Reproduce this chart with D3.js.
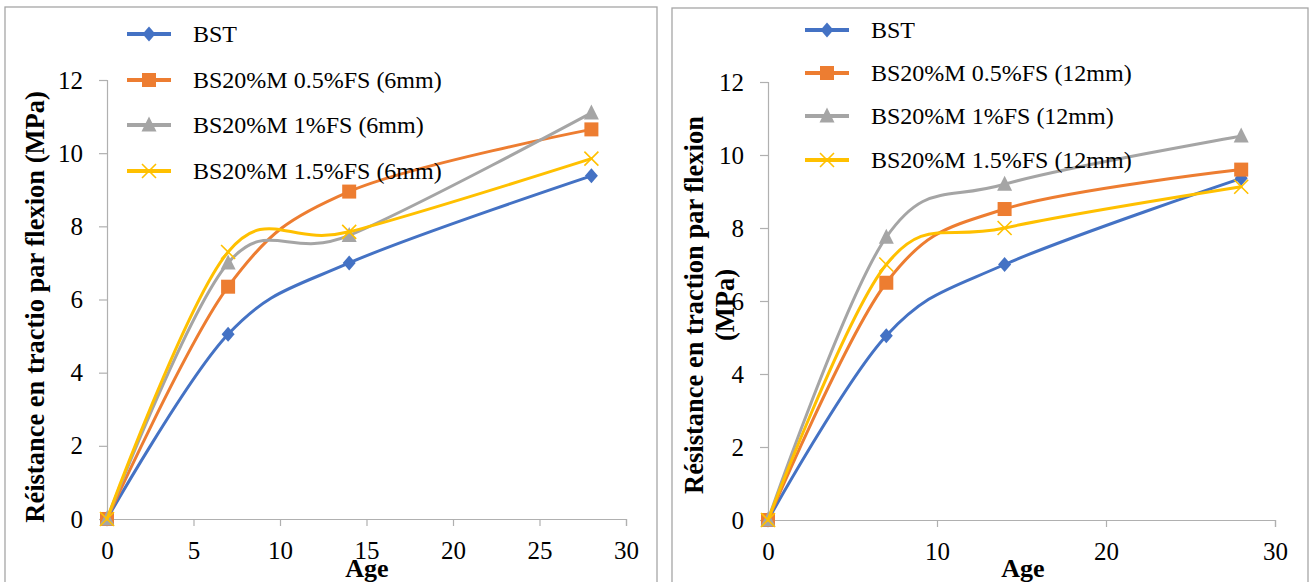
<!DOCTYPE html>
<html><head><meta charset="utf-8">
<script src="https://cdn.jsdelivr.net/npm/d3@7"></script>
<style>body{margin:0;background:#fff}svg{display:block}</style>
</head><body>
<svg id="c" width="1312" height="582"></svg>
<script>
const ages = [0, 7, 14, 28];
const leftNames = ["BST", "BS20%M 0.5%FS (6mm)", "BS20%M 1%FS (6mm)", "BS20%M 1.5%FS (6mm)"];
const leftBST = [0, 5.05, 7.0, 9.38];
const left05 = [0, 6.35, 8.95, 10.65];
const left10 = [0, 7.0, 7.75, 11.1];
const left15 = [0, 7.3, 7.85, 9.85];
const rightNames = ["BST", "BS20%M 0.5%FS (12mm)", "BS20%M 1%FS (12mm)", "BS20%M 1.5%FS (12mm)"];
const rightBST = [0, 5.05, 7.0, 9.36];
const right05 = [0, 6.5, 8.52, 9.6];
const right10 = [0, 7.75, 9.2, 10.52];
const right15 = [0, 7.0, 8.0, 9.13];
const yTicks = [0, 2, 4, 6, 8, 10, 12];
const xTicksLeft = [0, 5, 10, 15, 20, 25, 30];
const xTicksRight = [0, 10, 20, 30];

const colors = ["#4472C4", "#ED7D31", "#A5A5A5", "#FFC000"];
const markers = ["diamond", "square", "triangle", "x"];
const svg = d3.select("#c");
const FONT = "'Liberation Serif','Times New Roman',serif";

function marker(g, type, color, x, y) {
  if (type === "diamond") {
    g.append("path").attr("d", `M${x},${y-7.5}L${x+6.5},${y}L${x},${y+7.5}L${x-6.5},${y}Z`).attr("fill", color);
  } else if (type === "square") {
    g.append("rect").attr("x", x-7).attr("y", y-7).attr("width", 14).attr("height", 14).attr("fill", color);
  } else if (type === "triangle") {
    g.append("path").attr("d", `M${x},${y-8.5}L${x+7.5},${y+6.5}L${x-7.5},${y+6.5}Z`).attr("fill", color);
  } else {
    g.append("path").attr("d", `M${x-7},${y-7}L${x+7},${y+7}M${x-7},${y+7}L${x+7},${y-7}`)
      .attr("stroke", color).attr("stroke-width", 1.6).attr("fill", "none");
  }
}

function chart(cfg) {
  const g = svg.append("g");
  g.append("rect").attr("x", cfg.box[0]).attr("y", cfg.box[1]).attr("width", cfg.box[2]).attr("height", cfg.box[3])
    .attr("fill", "#fff").attr("stroke", "#a6a6a6").attr("stroke-width", 1.3);
  const x = d3.scaleLinear().domain([0, 30]).range([cfg.x0, cfg.x1]);
  const y = d3.scaleLinear().domain([0, 12]).range([cfg.y0, cfg.y1]);

  const ya = g.append("g").attr("transform", `translate(${cfg.x0},0)`)
    .call(d3.axisLeft(y).tickValues(yTicks).tickSize(8).tickPadding(16).tickFormat(d3.format("d")));
  const xa = g.append("g").attr("transform", `translate(0,${cfg.y0})`)
    .call(d3.axisBottom(x).tickValues(cfg.xTicks).tickSize(7).tickPadding(15).tickFormat(d3.format("d")));
  [ya, xa].forEach(a => {
    a.select(".domain").attr("stroke", "#b0b0b0").attr("stroke-width", 1.2);
    a.selectAll(".tick line").attr("stroke", "#b0b0b0").attr("stroke-width", 1.2);
    a.selectAll("text").attr("font-family", FONT).attr("font-size", 25).attr("fill", "#000");
  });

  const line = d3.line().x((d, i) => x(ages[i])).y(d => y(d)).curve(d3.curveCardinal.tension(0));
  cfg.series.forEach((s, k) => {
    g.append("path").datum(s).attr("d", line).attr("fill", "none")
      .attr("stroke", colors[k]).attr("stroke-width", 3).attr("stroke-linecap", "round");
    s.forEach((v, i) => marker(g, markers[k], colors[k], x(ages[i]), y(v)));
  });

  // legend
  cfg.names.forEach((n, k) => {
    const ly = cfg.legY[k];
    g.append("line").attr("x1", cfg.legX).attr("x2", cfg.legX + 44).attr("y1", ly).attr("y2", ly)
      .attr("stroke", colors[k]).attr("stroke-width", 4);
    marker(g, markers[k], colors[k], cfg.legX + 22, ly);
    g.append("text").attr("x", cfg.legX + 66).attr("y", ly + 8).text(n)
      .attr("font-family", FONT).attr("font-size", 24).attr("fill", "#000");
  });

  g.append("text").attr("x", cfg.ageX).attr("y", 577).attr("text-anchor", "middle")
    .attr("font-family", FONT).attr("font-size", 26).attr("font-weight", "bold").text("Age");

  cfg.yTitle.forEach((t, i) => {
    g.append("text").attr("transform", `translate(${cfg.yTitleX[i]},${cfg.yTitleY}) rotate(-90)`)
      .attr("text-anchor", "middle").attr("font-family", FONT).attr("font-size", 26.5).attr("font-weight", "bold").text(t);
  });
}

chart({
  box: [5, 7, 652, 590], x0: 107, x1: 626, y0: 519, y1: 80, xTicks: xTicksLeft, ageX: 367,
  series: [leftBST, left05, left10, left15], names: leftNames,
  legX: 127, legY: [34, 80, 125, 171],
  yTitle: ["Réistance en tractio par flexion (MPa)"], yTitleX: [44], yTitleY: 307
});
chart({
  box: [672, 8, 636, 590], x0: 768, x1: 1275, y0: 520, y1: 82, xTicks: xTicksRight, ageX: 1023,
  series: [rightBST, right05, right10, right15], names: rightNames,
  legX: 805, legY: [30, 73, 116, 160],
  yTitle: ["Résistance en traction par flexion", "(MPa)"], yTitleX: [703, 734], yTitleY: 305
});
</script>
</body></html>
